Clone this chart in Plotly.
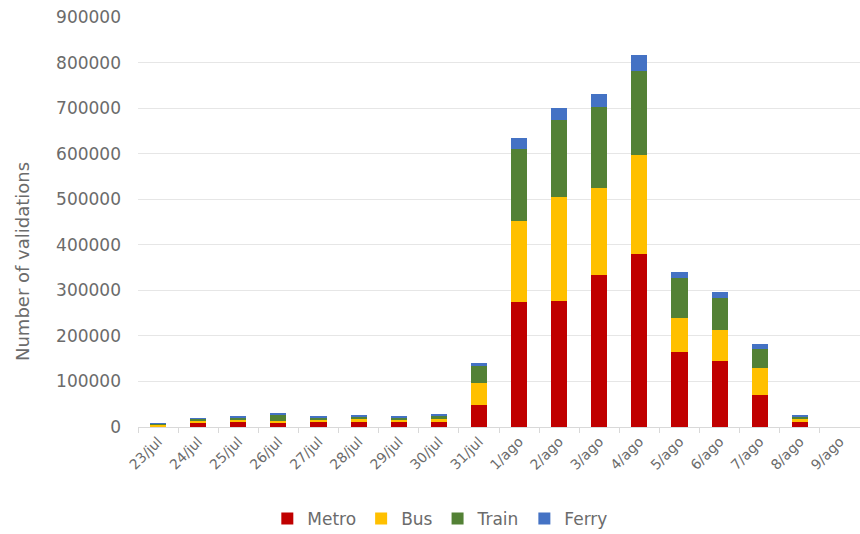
import plotly.graph_objects as go

dates = ["23/jul", "24/jul", "25/jul", "26/jul", "27/jul", "28/jul", "29/jul", "30/jul", "31/jul",
         "1/ago", "2/ago", "3/ago", "4/ago", "5/ago", "6/ago", "7/ago", "8/ago", "9/ago"]
metro = [2000, 8000, 10000, 8000, 10000, 10000, 10000, 10000, 48000,
         274000, 277000, 333000, 380000, 165000, 145000, 70000, 10000, 0]
bus = [3000, 7000, 6000, 6000, 6000, 7000, 6000, 8000, 48000,
       178000, 228000, 191000, 217000, 75000, 68000, 59000, 7000, 0]
train = [2000, 3000, 5000, 14000, 5000, 7000, 5000, 8000, 40000,
         158000, 168000, 178000, 184000, 87000, 70000, 43000, 6000, 0]
ferry = [500, 1000, 1000, 1000, 1000, 1000, 1000, 1000, 4000,
         24000, 27000, 30000, 36000, 13000, 13000, 10000, 2000, 0]

series = [("Metro", metro, "#C00000"), ("Bus", bus, "#FFC000"),
          ("Train", train, "#538135"), ("Ferry", ferry, "#4472C4")]

FONT = "DejaVu Sans, Lato, sans-serif"
GREY = "#6b6b6b"

fig = go.Figure()
for name, vals, col in series:
    fig.add_trace(go.Bar(x=dates, y=vals, name=name, marker_color=col, marker_line_width=0))

fig.update_layout(
    barmode="stack",
    bargap=0.6,
    width=860, height=534,
    margin=dict(l=138, r=0, t=17, b=107),
    paper_bgcolor="white", plot_bgcolor="white",
    font=dict(family=FONT, size=16, color=GREY),
    legend=dict(orientation="h", xref="container", x=0.512, xanchor="center",
                yref="container", y=0.028, yanchor="middle",
                font=dict(size=17, color=GREY), traceorder="normal", itemwidth=30),
    xaxis=dict(tickangle=-45, showgrid=False, showline=True, linecolor="#D9D9D9",
               ticks="outside", tickson="boundaries", tickcolor="#D9D9D9", ticklen=5,
               tickfont=dict(size=14, color=GREY)),
    yaxis=dict(range=[0, 900000], dtick=100000, showgrid=True, gridcolor="#E6E6E6",
               zeroline=False, tickformat="d", ticklabelstandoff=16,
               tickfont=dict(size=17, color=GREY)),
    annotations=[dict(text="Number of validations", xref="paper", yref="paper",
                      x=(22 - 138) / 722, y=(427 - 262) / 410, textangle=-90,
                      showarrow=False, xanchor="center", yanchor="middle",
                      font=dict(size=18, color=GREY))],
)

fig.write_html("out.html")
